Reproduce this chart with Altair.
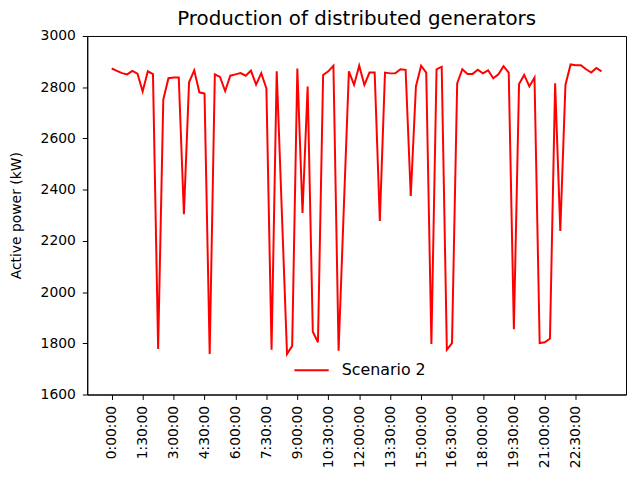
import json
import altair as alt
import pandas as pd

# 15-minute time slots of one day
times = [f"{h}:{m:02d}:00" for h in range(24) for m in (0, 15, 30, 45)]
tick_labels = times[::6]
tick_positions = list(range(0, len(times), 6))

power = [
    2873, 2864, 2855, 2850, 2864, 2853, 2783, 2862, 2851, 1778,
    2751, 2835, 2838, 2838, 2304, 2819, 2866, 2780, 2775, 1758,
    2850, 2840, 2785, 2845, 2850, 2855, 2845, 2865, 2810, 2855,
    2795, 1775, 2862, 2310, 1758, 1790, 2873, 2309, 2803, 1845,
    1804, 2848, 2862, 2884, 1771, 2320, 2862, 2809, 2884, 2809,
    2857, 2857, 2278, 2857, 2854, 2854, 2870, 2868, 2375, 2803,
    2884, 2857, 1797, 2870, 2880, 1775, 1801, 2815, 2870, 2852,
    2852, 2868, 2854, 2866, 2835, 2850, 2882, 2857, 1855, 2812,
    2848, 2803, 2838, 1801, 1804, 1819, 2815, 2239, 2809, 2889,
    2886, 2886, 2870, 2857, 2875, 2862,
]
series = ["Scenario 2"] * len(times)
y_ticks = [1600, 1800, 2000, 2200, 2400, 2600, 2800, 3000]

df = pd.DataFrame({
    "slot": list(range(len(times))),
    "time": times,
    "power": power,
    "series": series,
})

FONT = "DejaVu Sans"
n = len(times)
margin = 0.05 * (n - 1)

chart = (
    alt.Chart(df)
    .mark_line(strokeWidth=2)
    .encode(
        x=alt.X(
            "slot:Q",
            scale=alt.Scale(domain=[-margin, n - 1 + margin], nice=False, zero=False),
            axis=alt.Axis(
                title=None,
                values=tick_positions,
                labelExpr=f"{json.dumps(tick_labels)}[round(datum.value / 6)]",
                labelAngle=270,
                labelFontSize=14,
                labelPadding=6,
                tickSize=5,
            ),
        ),
        y=alt.Y(
            "power:Q",
            scale=alt.Scale(domain=[1600, 3000], nice=False, zero=False),
            axis=alt.Axis(
                title="Active power (kW)",
                values=y_ticks,
                format="d",
                labelFontSize=14,
                labelPadding=7,
                tickSize=5,
                titleFontSize=14,
                titleFontWeight="normal",
                titlePadding=17,
            ),
        ),
        color=alt.Color(
            "series:N",
            scale=alt.Scale(range=["#ff0000"]),
            legend=alt.Legend(
                title=None,
                orient="none",
                legendX=208,
                legendY=319,
                symbolType="stroke",
                symbolSize=1200,
                symbolStrokeWidth=2,
                labelFontSize=16,
                labelOffset=12,
                padding=0,
            ),
        ),
        tooltip=["time:N", "power:Q"],
    )
    .properties(
        width=544,
        height=362,
        title=alt.TitleParams(
            "Production of distributed generators",
            fontSize=20,
            fontWeight="normal",
            anchor="middle",
            frame="group",
            offset=0,
        ),
        autosize=alt.AutoSizeParams(type="none"),
        padding={"left": 80, "top": 26, "right": 2, "bottom": 78},
    )
    .configure(font=FONT)
    .configure_axis(
        grid=False,
        domainColor="#000000",
        tickColor="#000000",
        labelColor="#000000",
        titleColor="#000000",
        labelFont=FONT,
        titleFont=FONT,
    )
    .configure_view(stroke="#000000", strokeWidth=1)
    .configure_title(font=FONT, color="#000000")
    .configure_legend(labelFont=FONT, labelColor="#000000")
)

chart.save("out.html", embed_options={"renderer": "svg", "actions": False})
